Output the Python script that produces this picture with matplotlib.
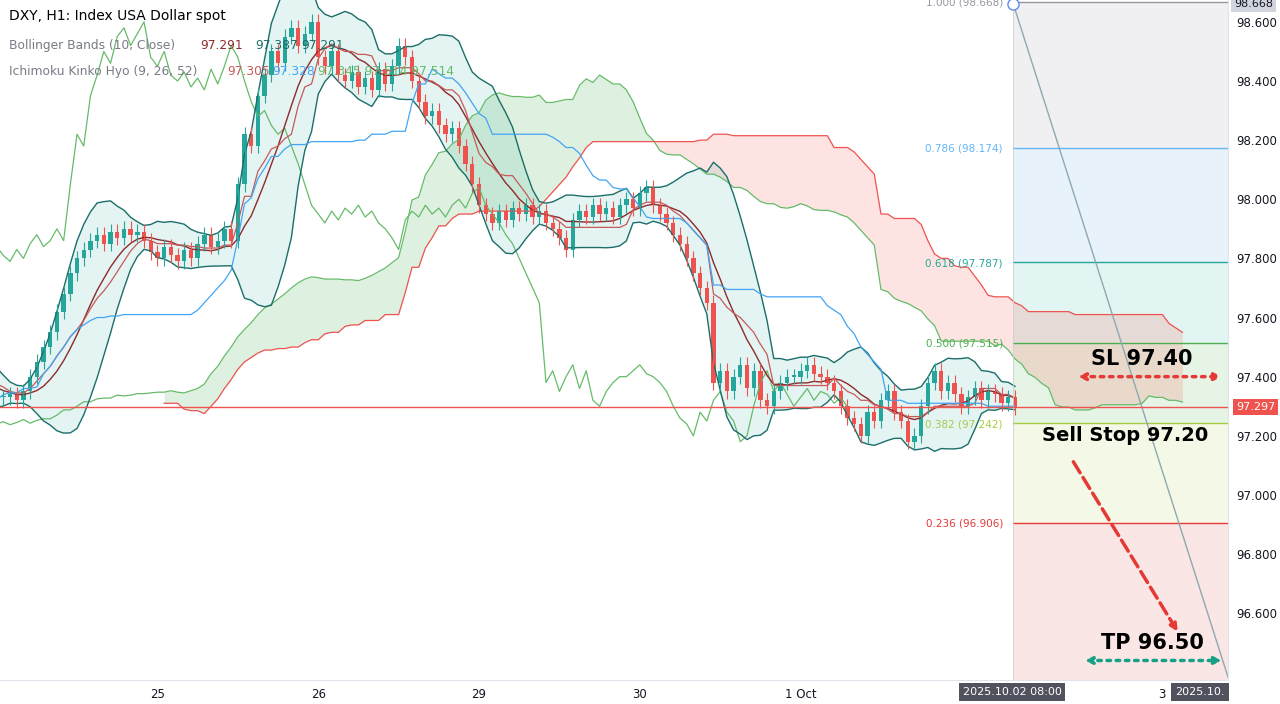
import numpy as np, pandas as pd
import matplotlib
matplotlib.use("Agg")
import matplotlib.pyplot as plt

# off-screen history (needed for the indicators at the left edge)
pre_close = [97.50,97.52,97.48,97.45,97.47,97.42,97.40,97.36,97.38,97.33,
             97.30,97.28,97.25,97.22,97.20,97.18,97.15,97.12,97.14,97.10,
             97.13,97.16,97.15,97.19,97.22,97.20,97.24,97.27,97.25,97.28,
             97.30,97.28,97.32,97.35,97.33,97.37,97.40,97.38,97.41,97.44,
             97.42,97.40,97.43,97.41,97.38,97.36,97.34,97.37,97.35,97.32,97.34,97.33]
close = [97.33,97.34,97.32,97.35,97.40,97.45,97.50,97.55,97.62,97.68,
         97.75,97.80,97.83,97.86,97.88,97.85,97.89,97.87,97.90,97.88,
         97.89,97.86,97.82,97.80,97.84,97.81,97.79,97.83,97.80,97.85,
         97.88,97.84,97.86,97.90,97.86,98.05,98.22,98.18,98.35,98.42,
         98.50,98.46,98.55,98.58,98.52,98.56,98.60,98.48,98.45,98.50,
         98.42,98.40,98.43,98.38,98.41,98.37,98.44,98.39,98.45,98.52,
         98.48,98.40,98.33,98.28,98.30,98.25,98.22,98.24,98.18,98.12,
         98.05,97.98,97.95,97.92,97.96,97.93,97.97,97.95,97.98,97.94,
         97.96,97.92,97.90,97.87,97.83,97.93,97.96,97.94,97.98,97.95,
         97.97,97.94,97.98,98.00,97.97,98.02,98.04,97.98,97.95,97.92,
         97.88,97.85,97.80,97.75,97.70,97.65,97.38,97.42,97.35,97.40,
         97.44,97.36,97.42,97.32,97.30,97.35,97.38,97.40,97.40,97.42,
         97.44,97.41,97.40,97.38,97.35,97.30,97.26,97.24,97.20,97.28,
         97.25,97.32,97.35,97.28,97.25,97.18,97.20,97.30,97.38,97.42,
         97.35,97.38,97.34,97.30,97.33,97.36,97.32,97.35,97.34,97.31,
         97.33,97.297]
wick = 0.025
fib_ratios = [1.0, 0.786, 0.618, 0.5, 0.382, 0.236]
fib_prices = [98.668, 98.174, 97.787, 97.515, 97.242, 96.906]
fib_colors = ['#9598a1', '#64b5f6', '#26a69a', '#4caf50', '#a5cc44', '#e53935']
fib_fills = ['#f0f0f2', '#e8f2fb', '#e3f5f2', '#e6f4e6', '#f4f8e6', '#fbe6e6']
xtick_pos = [23, 47, 71, 95, 119, 173]
xtick_lab = ['25', '26', '29', '30', '1 Oct', '3']
last_price = 97.297

allc = np.array(pre_close + close)
n_pre = len(pre_close)
idx = np.arange(len(allc)) - n_pre
opn = np.concatenate([[allc[0]], allc[:-1]])
hi = np.maximum(opn, allc) + wick
lo = np.minimum(opn, allc) - wick
H = pd.Series(hi); L = pd.Series(lo); C = pd.Series(allc)
mid = lambda p: (H.rolling(p).max() + L.rolling(p).min()) / 2
tenkan = mid(9); kijun = mid(26)
spanA = ((tenkan + kijun) / 2).values; spanB = mid(52).values
shift = 25
xs = idx + shift
sma = C.rolling(10).mean(); sd = C.rolling(10).std(ddof=0)
up = sma + 2 * sd; dn = sma - 2 * sd

fig = plt.figure(figsize=(12.8, 7.04), dpi=100)
ax = fig.add_axes([0, 24/704, 1228/1280, 680/704])
x0, x1 = -0.5, 182.8
ymax, ymin = 98.674, 96.374
ax.set_xlim(x0, x1); ax.set_ylim(ymin, ymax)

ax.fill_between(xs, spanA, spanB, where=spanA >= spanB, color='#4caf50', alpha=0.18, lw=0, interpolate=True)
ax.fill_between(xs, spanA, spanB, where=spanA < spanB, color='#f44336', alpha=0.15, lw=0, interpolate=True)
ax.plot(xs, spanA, color='#66bb6a', lw=0.9)
ax.plot(xs, spanB, color='#ef5350', lw=0.9)
ax.plot(idx - shift, allc, color='#66bb6a', lw=0.9)  # chikou
ax.fill_between(idx, up, dn, color='#26a69a', alpha=0.12, lw=0)
ax.plot(idx, up, color='#1b6e6a', lw=1.0)
ax.plot(idx, dn, color='#1b6e6a', lw=1.0)
ax.plot(idx, sma, color='#8d2b2b', lw=1.0)
ax.plot(idx, tenkan, color='#c65a5a', lw=0.9)
ax.plot(idx, kijun, color='#42a5f5', lw=0.9)

vis = idx >= 0
for i, o, c, h, l in zip(idx[vis], opn[vis], allc[vis], hi[vis], lo[vis]):
    col = '#26a69a' if c >= o else '#ef5350'
    ax.vlines(i, l, h, color=col, lw=0.8)
    ax.bar(i, max(abs(c - o), 0.004), bottom=min(o, c), width=0.65, color=col, lw=0)

fx0 = 150.7
lv = fib_prices + [96.37]
for k in range(len(fib_prices)):
    ax.fill_between([fx0, x1], lv[k + 1], lv[k], color=fib_fills[k], lw=0, zorder=0.5)
for r, p, c in zip(fib_ratios, fib_prices, fib_colors):
    ax.plot([fx0, x1], [p, p], color=c, lw=1)
    ax.text(fx0 - 1.5, p - 0.003, f"{r:.3f} ({p:.3f})", color=c, fontsize=7.5, ha='right', va='center')
ax.axvline(fx0, color='#d0d0d0', lw=0.6)
ax.plot([fx0, x1], [ymax - 0.01, ymin + 0.01], color='#8fa8b0', lw=1)
ax.plot([fx0], [98.662], 'o', mfc='white', mec='#5b8def', ms=8)

ax.axhline(last_price, color='#ef5350', lw=1)

ax.annotate('', xy=(x1 - 0.5, 97.40), xytext=(160, 97.40),
            arrowprops=dict(arrowstyle='<|-|>', color='#e53935', lw=2.5, ls=':'))
ax.text(170, 97.46, 'SL 97.40', fontsize=15, fontweight='bold', ha='center', va='center')
ax.text(167.5, 97.20, 'Sell Stop 97.20', fontsize=14, fontweight='bold', ha='center', va='center')
ax.annotate('', xy=(175.5, 96.53), xytext=(159.5, 97.12),
            arrowprops=dict(arrowstyle='-|>', color='#e53935', lw=2.5, ls='--'))
ax.text(171.5, 96.50, 'TP 96.50', fontsize=15, fontweight='bold', ha='center', va='center')
ax.annotate('', xy=(x1 - 0.5, 96.44), xytext=(161, 96.44),
            arrowprops=dict(arrowstyle='<|-|>', color='#16a085', lw=2.5, ls=':'))

fs = 8.8
ax.text(0.007, 0.977, 'DXY, H1: Index USA Dollar spot', transform=ax.transAxes, fontsize=10, va='center')
ax.text(0.007, 0.933, 'Bollinger Bands (10, Close)', transform=ax.transAxes, fontsize=fs, color='#787b86', va='center')
ax.text(0.163, 0.933, '97.291', transform=ax.transAxes, fontsize=fs, color='#8d2b2b', va='center')
ax.text(0.208, 0.933, '97.387', transform=ax.transAxes, fontsize=fs, color='#1b6e6a', va='center')
ax.text(0.245, 0.933, '97.291', transform=ax.transAxes, fontsize=fs, color='#1b6e6a', va='center')
ax.text(0.007, 0.895, 'Ichimoku Kinko Hyo (9, 26, 52)', transform=ax.transAxes, fontsize=fs, color='#787b86', va='center')
ax.text(0.185, 0.895, '97.305', transform=ax.transAxes, fontsize=fs, color='#c65a5a', va='center')
ax.text(0.222, 0.895, '97.328', transform=ax.transAxes, fontsize=fs, color='#42a5f5', va='center')
ax.text(0.259, 0.895, '97.345 97.514 97.514', transform=ax.transAxes, fontsize=fs, color='#66bb6a', va='center')

ax.yaxis.tick_right()
ax.set_yticks(np.arange(96.6, 98.61, 0.2))
ax.set_yticklabels([f"{v:.3f}" for v in np.arange(96.6, 98.61, 0.2)])
ax.set_xticks(xtick_pos); ax.set_xticklabels(xtick_lab)
ax.tick_params(length=0, labelsize=8.5, colors='#131722', pad=6)
for s in ax.spines.values():
    s.set_visible(False)
ax.spines['right'].set_visible(True); ax.spines['right'].set_color('#e0e3eb')
ax.spines['bottom'].set_visible(True); ax.spines['bottom'].set_color('#e0e3eb')
ax.text(1.0 + 8/1228, last_price, f"{last_price:.3f}", transform=ax.get_yaxis_transform(), fontsize=8,
        color='white', va='center', ha='left', bbox=dict(boxstyle='square,pad=0.25', fc='#ef5350', ec='none'))
ax.text(1.0 + 6/1228, 98.66, '98.668', transform=ax.get_yaxis_transform(), fontsize=8,
        color='#131722', va='center', ha='left', bbox=dict(boxstyle='square,pad=0.25', fc='#d1d4dc', ec='none'))
fig.text(1012/1280, 12/704, '2025.10.02 08:00', fontsize=8, color='white', ha='center', va='center',
         bbox=dict(boxstyle='square,pad=0.35', fc='#50535e', ec='none'))
fig.text(1200/1280, 12/704, '2025.10.', fontsize=8, color='white', ha='center', va='center',
         bbox=dict(boxstyle='square,pad=0.35', fc='#50535e', ec='none'))
fig.savefig('out.png', dpi=100)
